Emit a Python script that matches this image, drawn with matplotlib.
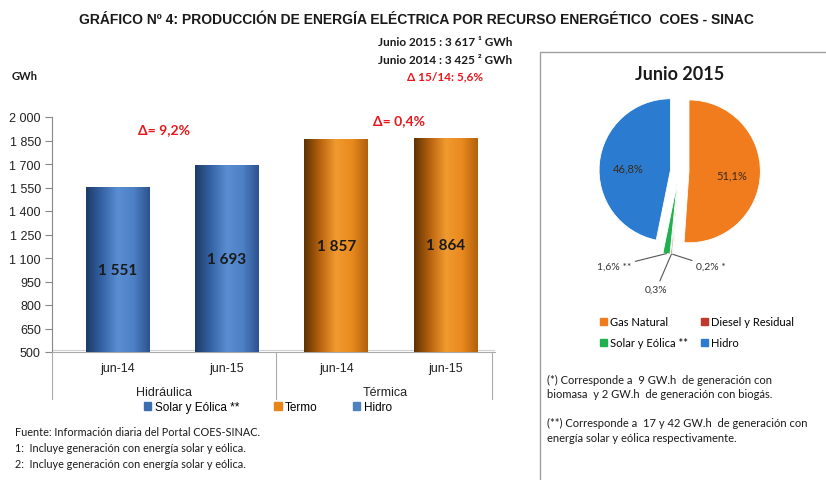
import numpy as np
import matplotlib
matplotlib.use("Agg")
import matplotlib.pyplot as plt
from matplotlib.colors import LinearSegmentedColormap
from matplotlib.patches import Rectangle, Patch

# ---------------- data ----------------
periods = ["jun-14", "jun-15", "jun-14", "jun-15"]
groups = ["Hidráulica", "Térmica"]
hidro_vals = [1551, 1693]
termo_vals = [1857, 1864]
delta_labels = ["Δ= 9,2%", "Δ= 0,4%"]
yticks = [500, 650, 800, 950, 1100, 1250, 1400, 1550, 1700, 1850, 2000]
bar_legend = ["Solar y Eólica **", "Termo", "Hidro"]

pie_names = ["Gas Natural", "Biomasa y Biogás", "Diesel y Residual", "Solar y Eólica **", "Hidro"]
pie_vals = [51.1, 0.2, 0.3, 1.6, 46.8]
pie_labels = ["51,1%", "0,2% *", "0,3%", "1,6% **", "46,8%"]

W, H = 826, 481
fig = plt.figure(figsize=(W / 100, H / 100), dpi=100)
fig.patch.set_facecolor("white")

def fx(px):
    return px / W

def fy(py):
    return 1 - py / H

COND = ["Liberation Sans", "DejaVu Sans"]
CAL = ["Lato", "DejaVu Sans"]
ARIAL = ["Liberation Sans", "DejaVu Sans"]

# ---------------- bar chart ----------------
ax = fig.add_axes([fx(52), fy(353), fx(495) - fx(52), fy(118) - fy(353)])
ymin, ymax = 500, 2000
ax.set_xlim(-0.6, 3.45)
ax.set_ylim(ymin, ymax)
xpos = np.arange(4)
values = hidro_vals + termo_vals
w = 0.585
blue_cmap = LinearSegmentedColormap.from_list(
    "b", ["#1d3a66", "#3563a6", "#5a8ed2", "#4d80c4", "#2c528f"])
orange_cmap = LinearSegmentedColormap.from_list(
    "o", ["#5e3205", "#b8620e", "#f09a30", "#e98a1e", "#b2600d"])
grad = np.linspace(0, 1, 256).reshape(1, -1)
for i, (x, v) in enumerate(zip(xpos, values)):
    cm = blue_cmap if i < 2 else orange_cmap
    base = "#3d6fb0" if i < 2 else "#e8861a"
    bar = ax.bar(x, v, width=w, color=base, zorder=2)[0]
    im = ax.imshow(grad, extent=[x - w / 2, x + w / 2, ymin, v], aspect="auto",
                   cmap=cm, zorder=3)
    im.set_clip_path(bar)
    ax.text(x, (ymin + v) / 2, f"{v:,}".replace(",", " "), ha="center", va="center",
            fontsize=11, fontweight="bold", color="#1a1a1a", family=CAL, zorder=5)

ax.set_xlim(-0.6, 3.45)
ax.set_ylim(ymin, ymax)
ax.set_yticks(yticks)
ax.set_yticklabels([f"{t:,}".replace(",", " ") for t in yticks], fontsize=9,
                   family=ARIAL, color="#222222")
ax.set_xticks(xpos)
ax.set_xticklabels(periods, fontsize=9, family=ARIAL, color="#222222")
ax.tick_params(axis="x", length=0, pad=7)
ax.tick_params(axis="y", length=5, color="#888888", pad=3)
for s in ["top", "right"]:
    ax.spines[s].set_visible(False)
ax.spines["left"].set_color("#888888")
ax.spines["bottom"].set_color("#aaaaaa")
ax.axhline(512, color="#d0d0d0", lw=0.8, zorder=1)

# group separators and group labels
trans = ax.get_xaxis_transform()
for sx in [-0.6, 1.45, 3.42]:
    ax.plot([sx, sx], [0, -0.2], transform=trans, color="#aaaaaa", lw=0.8, clip_on=False)
for gx, g in zip([0.42, 2.45], groups):
    ax.text(gx, -0.17, g, transform=trans, ha="center", va="center", fontsize=9,
            family=ARIAL, color="#222222")

# delta annotations
ax.text(0.42, 1925, delta_labels[0], ha="center", va="center", fontsize=10,
        fontweight="bold", color="#e8161b", family=CAL)
ax.text(2.57, 1982, delta_labels[1], ha="center", va="center", fontsize=10,
        fontweight="bold", color="#e8161b", family=CAL)

# bar legend
handles = [Patch(color="#3d6fb0"), Patch(color="#e8861a"), Patch(color="#4f81bd")]
fig.legend(handles, bar_legend, loc="center", bbox_to_anchor=(fx(268), fy(408)),
           ncol=3, frameon=False, handlelength=0.6, handleheight=0.6,
           handletextpad=0.3, columnspacing=3.0, prop={"family": ARIAL, "size": 8.5})

# ---------------- titles and texts ----------------
fig.text(fx(416), fy(20), "GRÁFICO Nº 4: PRODUCCIÓN DE ENERGÍA ELÉCTRICA POR RECURSO ENERGÉTICO  COES - SINAC",
         ha="center", va="center", fontsize=10, fontweight="bold", family=COND, color="#1a1a1a")
fig.text(fx(445), fy(43), "Junio 2015 : 3 617 ¹ GWh", ha="center", va="center",
         fontsize=8.5, fontweight="bold", family=CAL, color="#1a1a1a")
fig.text(fx(445), fy(61), "Junio 2014 : 3 425 ² GWh", ha="center", va="center",
         fontsize=8.5, fontweight="bold", family=CAL, color="#1a1a1a")
fig.text(fx(445), fy(77), "Δ 15/14: 5,6%", ha="center", va="center",
         fontsize=8.5, fontweight="bold", family=CAL, color="#e8161b")
fig.text(fx(12), fy(77), "GWh", ha="left", va="center", fontsize=8,
         fontweight="bold", family=CAL, color="#1a1a1a")

foot = ["Fuente: Información diaria del Portal COES-SINAC.",
        "1:  Incluye generación con energía solar y eólica.",
        "2:  Incluye generación con energía solar y eólica."]
for i, t in enumerate(foot):
    fig.text(fx(15), fy(432 + 16 * i), t, ha="left", va="center", fontsize=7.8,
             family=CAL, color="#1a1a1a")

# right panel frame
fig.add_artist(Rectangle((fx(540), -0.05), 1, fy(53) + 0.05, transform=fig.transFigure,
                         fill=False, ec="#a0a0a0", lw=1))

# ---------------- pie ----------------
cx, cy, half = 679, 172, 120
pax = fig.add_axes([fx(cx - half), fy(cy + half), 2 * half / W, 2 * half / H])
pie_colors = ["#f07c1e", "#8a8a3a", "#c0392b", "#21b04f", "#2b7cd0"]
explode = [0.14, 0.17, 0.17, 0.17, 0.12]
wedges, _ = pax.pie(pie_vals, colors=pie_colors, startangle=90, counterclock=False,
                    explode=explode, radius=1,
                    wedgeprops=dict(linewidth=0.6, edgecolor="#ffffff"))
lim = half / 71.4
pax.set_xlim(-lim, lim)
pax.set_ylim(-lim, lim)
pax.set_aspect("equal")
pax.axis("off")

angles = [np.deg2rad((wd.theta1 + wd.theta2) / 2) for wd in wedges]
for idx in [0, 4]:
    a = angles[idx]
    r = 0.6 + explode[idx]
    pax.text(r * np.cos(a), r * np.sin(a) - 0.03, pie_labels[idx], ha="center", va="center",
             fontsize=8, family=CAL, color="#3a2a1a")
ext = {1: (0.24, -1.34, "left"), 2: (-0.32, -1.66, "center"), 3: (-0.67, -1.34, "right")}
for idx, (tx, ty, ha) in ext.items():
    a = angles[idx]
    r = 1 + explode[idx]
    pax.annotate(pie_labels[idx], xy=(r * np.cos(a), r * np.sin(a)), xytext=(tx, ty),
                 ha=ha, va="center", fontsize=7.5, family=CAL, color="#333333",
                 arrowprops=dict(arrowstyle="-", color="#555555", lw=0.8,
                                 shrinkA=1, shrinkB=0), annotation_clip=False)

fig.text(fx(680), fy(75), "Junio 2015", ha="center", va="center", fontsize=13,
         fontweight="bold", family=CAL, color="#1a1a1a")

leg_idx = [0, 3, 2, 4]
fig.legend([Patch(color=pie_colors[i]) for i in leg_idx], [pie_names[i] for i in leg_idx],
           loc="center", bbox_to_anchor=(fx(697), fy(333)), ncol=2, frameon=False,
           handlelength=0.6, handleheight=0.6, handletextpad=0.3, columnspacing=1.2,
           labelspacing=0.9, prop={"family": CAL, "size": 8})

notes = ["(*) Corresponde a  9 GW.h  de generación con",
         "biomasa  y 2 GW.h  de generación con biogás.",
         "",
         "(**) Corresponde a  17 y 42 GW.h  de generación con",
         "energía solar y eólica respectivamente."]
for i, t in enumerate(notes):
    if t:
        fig.text(fx(547), fy(380 + 14.5 * i), t, ha="left", va="center", fontsize=8,
                 family=CAL, color="#1a1a1a")

fig.savefig("out.png", dpi=100, facecolor="white")
